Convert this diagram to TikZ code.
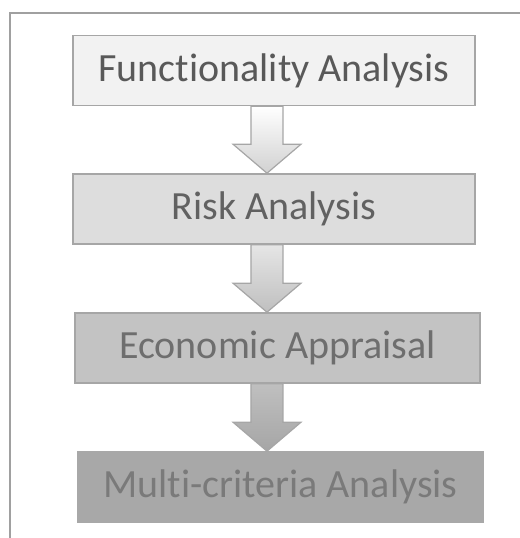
\documentclass[tikz,border=0pt]{standalone}
\usepackage{fontspec}
\setmainfont{Carlito}[Ligatures=NoCommon]
\usetikzlibrary{calc}

\definecolor{framegray}{HTML}{A0A0A0}
\definecolor{boxone}{HTML}{F2F2F2}
\definecolor{boxtwo}{HTML}{DDDDDD}
\definecolor{boxthree}{HTML}{C3C3C3}
\definecolor{boxfour}{HTML}{A8A8A8}
\definecolor{edgegray}{HTML}{A6A6A6}

\tikzset{
  stage/.style={rectangle, minimum width=201pt, minimum height=35pt,
    line width=0.8pt, font=\fontsize{20}{22}\selectfont, inner sep=0pt},
  arrowbody/.style={draw=edgegray, line width=0.6pt, line join=miter}
}

% block arrow from the lower side of one stage to the upper side of the next
\newcommand{\blockarrow}[4]{%
  \path[arrowbody, top color=#3, bottom color=#4]
    ($(axis |- #1.south)+(-16,0)$) -- ($(axis |- #1.south)+(16,0)$)
    -- ($(axis |- #2.north)+(16,-29)$) -- ($(axis |- #2.north)+(34,-29)$)
    -- (axis |- #2.north) -- ($(axis |- #2.north)+(-34,-29)$)
    -- ($(axis |- #2.north)+(-16,-29)$) -- cycle;}

\begin{document}
\begin{tikzpicture}[x=0.5pt, y=-0.5pt]
  \useasboundingbox (0,0) rectangle (520,538);

  % Marco
  \draw[framegray, line width=1pt] (10,538) -- (10,13) -- (520,13);

  % Etapas
  \node[stage, fill=boxone, draw=edgegray, text=black!65] (func) at (274,70.5) {Functionality Analysis};
  \node[stage, fill=boxtwo, draw=edgegray, text=black!62] (risk) at (274,209) {Risk Analysis};
  \node[stage, fill=boxthree, draw=edgegray, minimum width=202.5pt, text=black!57] (econ) at (277.5,348) {Economic Appraisal};
  \node[stage, fill=boxfour, draw=boxfour, minimum width=202.5pt, text=black!52] (multi) at (280.5,487) {Multi-criteria Analysis};

  % Flechas
  \coordinate (axis) at (267,0);
  \blockarrow{func}{risk}{white}{black!18}
  \blockarrow{risk}{econ}{black!10}{black!25}
  \blockarrow{econ}{multi}{black!25}{black!35}
\end{tikzpicture}
\end{document}
